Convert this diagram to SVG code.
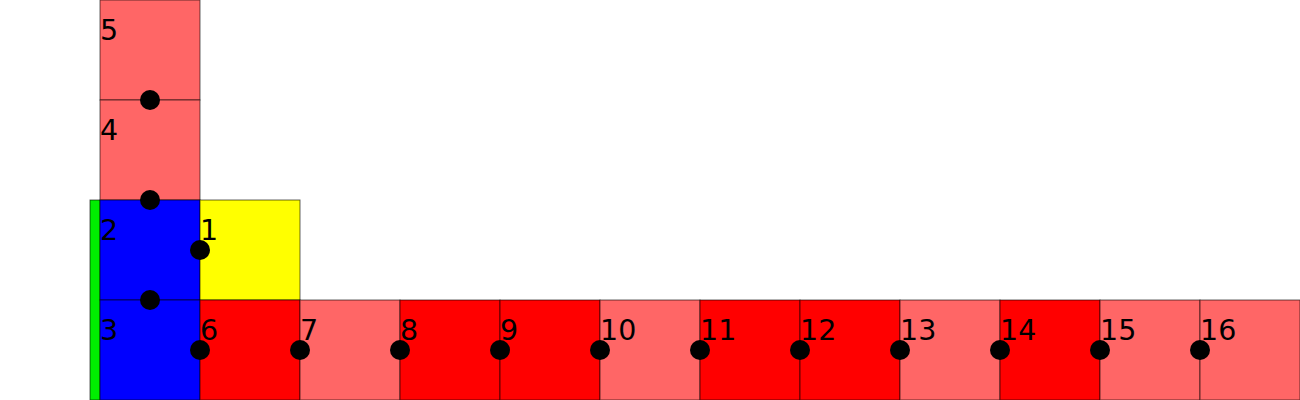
<svg xmlns="http://www.w3.org/2000/svg" width="1300" height="400" viewBox="0 0 1300 400">
<style>
rect{stroke:#000;stroke-opacity:0.6;stroke-width:1}
.lr{fill:#ff6666}.r{fill:#ff0000}.b{fill:#0000ff}.y{fill:#ffff00}.g{fill:#00ee00}
text{font-family:"DejaVu Sans",sans-serif;font-size:28.5px;fill:#000}
circle{fill:#000}
</style>
<rect width="1300" height="400" fill="#fff" style="stroke:none"/>
<g id="strip"><rect class="g" x="90" y="200" width="10" height="200"/></g>
<g id="n5"><rect class="lr" x="100" y="0" width="100" height="100"/><text x="100" y="40">5</text></g>
<g id="n4"><rect class="lr" x="100" y="100" width="100" height="100"/><text x="100" y="140">4</text></g>
<g id="n2"><rect class="b" x="100" y="200" width="100" height="100"/><text x="100" y="240">2</text></g>
<g id="n1"><rect class="y" x="200" y="200" width="100" height="100"/><text x="200" y="240">1</text></g>
<g id="n3"><rect class="b" x="100" y="300" width="100" height="100"/><text x="100" y="340">3</text></g>
<g id="n6"><rect class="r" x="200" y="300" width="100" height="100"/><text x="200" y="340">6</text></g>
<g id="n7"><rect class="lr" x="300" y="300" width="100" height="100"/><text x="300" y="340">7</text></g>
<g id="n8"><rect class="r" x="400" y="300" width="100" height="100"/><text x="400" y="340">8</text></g>
<g id="n9"><rect class="r" x="500" y="300" width="100" height="100"/><text x="500" y="340">9</text></g>
<g id="n10"><rect class="lr" x="600" y="300" width="100" height="100"/><text x="600" y="340">10</text></g>
<g id="n11"><rect class="r" x="700" y="300" width="100" height="100"/><text x="700" y="340">11</text></g>
<g id="n12"><rect class="r" x="800" y="300" width="100" height="100"/><text x="800" y="340">12</text></g>
<g id="n13"><rect class="lr" x="900" y="300" width="100" height="100"/><text x="900" y="340">13</text></g>
<g id="n14"><rect class="r" x="1000" y="300" width="100" height="100"/><text x="1000" y="340">14</text></g>
<g id="n15"><rect class="lr" x="1100" y="300" width="100" height="100"/><text x="1100" y="340">15</text></g>
<g id="n16"><rect class="lr" x="1200" y="300" width="100" height="100"/><text x="1200" y="340">16</text></g>
<g id="connectors">
<circle cx="150" cy="100" r="10"/><circle cx="150" cy="200" r="10"/><circle cx="200" cy="250" r="10"/><circle cx="150" cy="300" r="10"/>
<circle cx="200" cy="350" r="10"/><circle cx="300" cy="350" r="10"/><circle cx="400" cy="350" r="10"/><circle cx="500" cy="350" r="10"/>
<circle cx="600" cy="350" r="10"/><circle cx="700" cy="350" r="10"/><circle cx="800" cy="350" r="10"/><circle cx="900" cy="350" r="10"/>
<circle cx="1000" cy="350" r="10"/><circle cx="1100" cy="350" r="10"/><circle cx="1200" cy="350" r="10"/>
</g>
</svg>
